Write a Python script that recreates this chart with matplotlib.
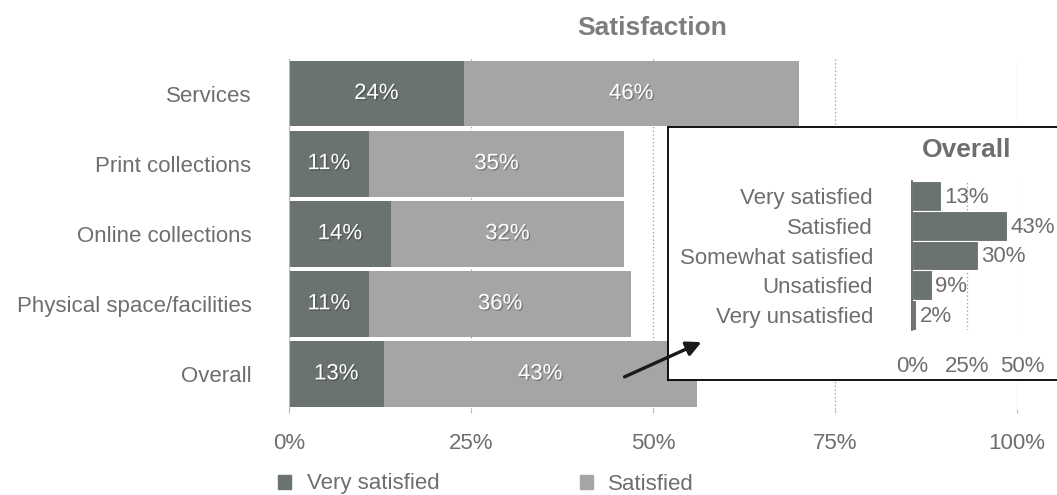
import matplotlib
matplotlib.use("Agg")
import matplotlib.pyplot as plt
import matplotlib.patheffects as pe
from matplotlib.patches import FancyArrowPatch, Patch

categories = ["Services", "Print collections", "Online collections",
              "Physical space/facilities", "Overall"]
very_satisfied = [24, 11, 14, 11, 13]
satisfied = [46, 35, 32, 36, 43]

overall_levels = ["Very satisfied", "Satisfied", "Somewhat satisfied",
                  "Unsatisfied", "Very unsatisfied"]
overall_values = [13, 43, 30, 9, 2]

main_ticks = [0, 25, 50, 75, 100]
inset_ticks = [0, 25, 50]

DARK = "#6a736f"
LIGHT = "#a5a5a5"
TEXT = "#6e6e6e"

plt.rcParams["font.family"] = ["Liberation Sans", "DejaVu Sans"]
plt.rcParams["font.size"] = 16

W, H = 1057, 495
fig = plt.figure(figsize=(W / 100, H / 100), dpi=100)


def rect(x0, y0, x1, y1):
    # pixel box (top-left origin) -> figure fraction
    return [x0 / W, 1 - y1 / H, (x1 - x0) / W, (y1 - y0) / H]


# ---- main stacked bars
ax = fig.add_axes(rect(289, 58.5, 1017, 409))
y = list(range(len(categories)))
ax.barh(y, very_satisfied, height=0.94, color=DARK, zorder=2)
ax.barh(y, satisfied, left=very_satisfied, height=0.94, color=LIGHT, zorder=2)

shadow = [pe.withSimplePatchShadow(offset=(1, -1), shadow_rgbFace="k", alpha=0.25)]
for i in y:
    ax.text(very_satisfied[i] / 2, i, f"{very_satisfied[i]}%", color="white",
            ha="center", va="center", path_effects=shadow, zorder=3)
    ax.text(very_satisfied[i] + satisfied[i] / 2, i, f"{satisfied[i]}%",
            color="white", ha="center", va="center", path_effects=shadow, zorder=3)

ax.set_xlim(0, 100)
ax.set_ylim(4.5, -0.5)
ax.set_yticks(y)
ax.set_yticklabels(categories)
ax.set_xticks(main_ticks)
ax.set_xticklabels([f"{t}%" for t in main_ticks])
ax.tick_params(axis="y", length=0, pad=27, colors=TEXT)
ax.tick_params(axis="x", length=3, pad=14, colors=TEXT, color="#bbbbbb")
ax.grid(axis="x", color="#999999", linestyle=(0, (1, 2)), linewidth=0.9, zorder=1)
ax.set_axisbelow(True)
for s in ["top", "right", "bottom"]:
    ax.spines[s].set_visible(False)
ax.spines["left"].set_color("#bbbbbb")

fig.text(652 / W, 1 - 28 / H, "Satisfaction", ha="center", va="center",
         fontsize=19, fontweight="bold", color="#7d7d7d")

leg = fig.legend(handles=[Patch(color=DARK, label="Very satisfied"),
                          Patch(color=LIGHT, label="Satisfied")],
                 loc="center left", bbox_to_anchor=(278 / W, 1 - 484 / H),
                 ncol=2, frameon=False, borderpad=0, borderaxespad=0,
                 handlelength=0.6, handleheight=0.6, handletextpad=0.7,
                 columnspacing=6.3, labelcolor=TEXT)

# ---- inset box
box = fig.add_axes(rect(668, 127, 1070, 380))
box.set_xticks([])
box.set_yticks([])
box.set_facecolor("white")
for s in box.spines.values():
    s.set_color("black")
    s.set_linewidth(1.3)
box.set_zorder(5)

ins = fig.add_axes(rect(912, 181, 1022, 330))
ins.set_zorder(6)
ins.patch.set_alpha(0)
yi = list(range(len(overall_levels)))
ins.barh(yi, overall_values, height=1.0, color=DARK, edgecolor="white",
         linewidth=0.8, zorder=2)
for i in yi:
    ins.text(overall_values[i] + 1.6, i + 0.05, f"{overall_values[i]}%",
             ha="left", va="center", color=TEXT, clip_on=False, zorder=3)
ins.set_xlim(0, 50)
ins.set_ylim(4.5, -0.5)
ins.set_yticks(yi)
ins.set_yticklabels(overall_levels)
ins.set_xticks(inset_ticks)
ins.set_xticklabels([f"{t}%" for t in inset_ticks])
ins.tick_params(axis="y", length=0, pad=28, colors=TEXT)
ins.tick_params(axis="x", length=0, pad=19, colors=TEXT)
ins.grid(axis="x", color="#999999", linestyle=(0, (1, 2)), linewidth=0.9, zorder=1)
ins.set_axisbelow(True)
for s in ["top", "right", "bottom"]:
    ins.spines[s].set_visible(False)
ins.spines["left"].set_color("#555555")
ins.spines["left"].set_linewidth(1.2)

fig.text(967 / W, 1 - 150 / H, "Overall", ha="center", va="center",
         fontsize=19, fontweight="bold", color="#6e6e6e", zorder=7)

arrow = FancyArrowPatch((622 / W, 1 - 378 / H), (704 / W, 1 - 341 / H),
                        transform=fig.transFigure, arrowstyle="-|>",
                        mutation_scale=22, linewidth=2.4, color="#1a1a1a",
                        zorder=8)
fig.add_artist(arrow)

fig.savefig("out.png", dpi=100)
